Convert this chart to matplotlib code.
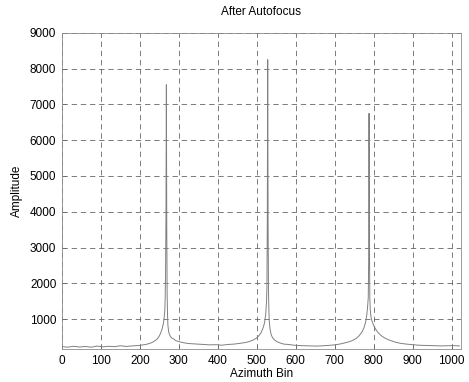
import numpy as np
import matplotlib
matplotlib.use("Agg")
import matplotlib.pyplot as plt

## values (azimuth bin -> amplitude)
bins = [0, 15, 30, 45, 60, 75, 90, 105, 120, 135, 150, 165, 180, 195, 205, 215,
        225, 232, 238, 244, 249, 253, 257, 260, 262, 264, 265, 266, 267, 268,
        269, 270, 271, 272, 274, 277, 281, 286, 292, 300, 310, 322, 335, 350,
        365, 380, 395, 410, 425, 440, 455, 468, 480, 490, 498, 505, 511, 516,
        520, 523, 525, 526, 527, 528, 529, 530, 531, 532, 534, 537, 541, 546,
        552, 560, 570, 582, 595, 610, 625, 640, 655, 670, 685, 700, 712, 724,
        735, 745, 755, 763, 770, 775, 779, 782, 784, 786, 787, 788, 789, 790,
        791, 792, 794, 797, 801, 806, 812, 819, 827, 836, 846, 857, 870, 885,
        900, 915, 930, 945, 960, 975, 990, 1005, 1020]
amp = [230, 215, 240, 220, 235, 215, 245, 225, 240, 230, 255, 235, 250, 260, 275, 290,
       320, 350, 390, 440, 510, 600, 720, 860, 1000, 1250, 1600, 2300, 3900, 7550,
       3600, 1700, 1100, 820, 640, 540, 480, 450, 400, 370, 345, 320, 310, 300,
       290, 280, 285, 270, 290, 300, 320, 340, 370, 410, 460, 530, 620, 750,
       900, 1150, 1500, 1900, 3800, 8250, 3700, 1800, 1250, 950, 720, 560, 470, 410,
       370, 330, 300, 290, 270, 260, 255, 250, 245, 255, 265, 280, 300, 330,
       360, 400, 460, 540, 640, 760, 900, 1100, 1300, 1600, 2600, 6750, 3200, 1600,
       1300, 1150, 1000, 900, 800, 700, 610, 540, 480, 430, 390, 350, 320, 300,
       285, 270, 265, 260, 255, 250, 255, 260, 250]

x_ticks = [0, 100, 200, 300, 400, 500, 600, 700, 800, 900, 1000]
y_ticks = [1000, 2000, 3000, 4000, 5000, 6000, 7000, 8000, 9000]

plt.rcParams['font.family'] = ['Liberation Sans', 'DejaVu Sans']
plt.rcParams['font.size'] = 8.5

fig = plt.figure(figsize=(4.69, 3.82), dpi=100)
ax = fig.add_axes([0.132, 0.086, 0.851, 0.828])

ax.plot(bins, amp, color='0.5', lw=0.7)

ax.set_xlim(0, 1024)
ax.set_ylim(160, 9000)
ax.set_xticks(x_ticks)
ax.set_yticks(y_ticks)
ax.tick_params(direction='in', length=3, width=0.5, color='0.4', pad=4)
ax.grid(True, color='0.35', linestyle=(0, (7, 5)), linewidth=0.55)
for s in ax.spines.values():
    s.set_color('0.55')
    s.set_linewidth(0.6)
    s.set_linestyle((0, (2, 1)))

ax.set_title('After Autofocus', fontsize=8.5, pad=13)
ax.set_xlabel('Azimuth Bin', fontsize=8.5, labelpad=1)
ax.set_ylabel('Amplitude', fontsize=8.5, labelpad=5)

fig.savefig('out.png', dpi=100)
